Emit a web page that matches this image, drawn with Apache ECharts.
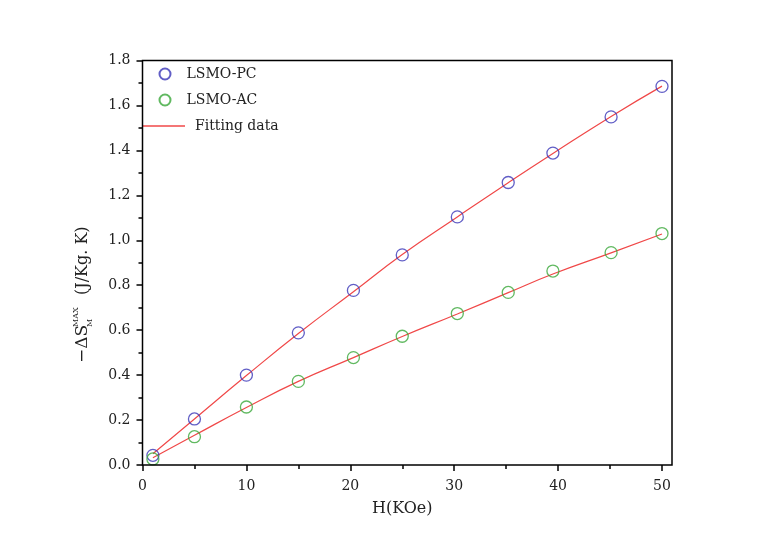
<!DOCTYPE html>
<html><head><meta charset="utf-8">
<script src="https://cdn.jsdelivr.net/npm/echarts@6/dist/echarts.min.js"></script>
<style>html,body{margin:0;padding:0;background:#fff}#c{width:768px;height:557px}</style>
</head><body><div id="c"></div>
<script>
const H = [1, 5, 10, 15, 20.3, 25, 30.3, 35.2, 39.5, 45.1, 50];
const pcData = [0.043, 0.205, 0.40, 0.588, 0.777, 0.935, 1.104, 1.257, 1.388, 1.549, 1.685];
const acData = [0.027, 0.126, 0.258, 0.372, 0.478, 0.573, 0.674, 0.768, 0.863, 0.945, 1.030];
const pcFit = [0.050, 0.205, 0.398, 0.585, 0.771, 0.937, 1.104, 1.256, 1.386, 1.551, 1.686];
const acFit = [0.032, 0.132, 0.256, 0.372, 0.478, 0.572, 0.672, 0.767, 0.850, 0.944, 1.028];
const xTicks = [0, 10, 20, 30, 40, 50];
const yTicks = ['0.0','0.2','0.4','0.6','0.8','1.0','1.2','1.4','1.6','1.8'];

const pair = (xs, ys) => xs.map((x, i) => [x, ys[i]]);
const FONT = 'DejaVu Serif';
const chart = echarts.init(document.getElementById('c'), null, {renderer: 'canvas'});
const L = 142.5, R = 662, T = 60.5, B = 465;
chart.setOption({
  backgroundColor: '#ffffff',
  animation: false,
  grid: {left: L, right: 768 - R, top: T, bottom: 557 - B, containLabel: false},
  legend: [{
    left: 158.5, top: 67, orient: 'vertical', padding: 0, itemGap: 12, itemWidth: 11, itemHeight: 11,
    textStyle: {fontFamily: FONT, fontSize: 14, color: '#222', padding: [0, 0, 0, 11]},
    data: [{name: 'LSMO-PC', icon: 'circle'}, {name: 'LSMO-AC', icon: 'circle'}]
  }, {
    left: 142, top: 119, padding: 0, itemWidth: 43, itemHeight: 1.3,
    textStyle: {fontFamily: FONT, fontSize: 14, color: '#222', padding: [0, 0, 0, 5]},
    data: [{name: 'Fitting data', icon: 'rect', itemStyle: {color: '#f04848'}}]
  }],
  xAxis: {
    type: 'value', min: 0, max: 50, interval: 10,
    name: 'H(KOe)', nameLocation: 'middle', nameGap: 36,
    nameTextStyle: {fontFamily: FONT, fontSize: 16, color: '#222'},
    axisLine: {show: false},
    axisTick: {show: true, inside: false, length: 6, lineStyle: {color: '#000', width: 1.5}},
    minorTick: {show: true, splitNumber: 2, length: 4, lineStyle: {color: '#000', width: 1.5}},
    splitLine: {show: false},
    axisLabel: {fontFamily: FONT, fontSize: 14, color: '#222', margin: 14,
      formatter: v => xTicks.includes(v) ? String(v) : ''}
  },
  yAxis: {
    type: 'value', min: 0, max: 1.8, interval: 0.2,
    axisLine: {show: false},
    axisTick: {show: true, inside: false, length: 6, lineStyle: {color: '#000', width: 1.5}},
    minorTick: {show: true, splitNumber: 2, length: 4, lineStyle: {color: '#000', width: 1.5}},
    splitLine: {show: false},
    axisLabel: {fontFamily: FONT, fontSize: 14, color: '#222', margin: 12,
      formatter: v => yTicks[Math.round(v / 0.2)] || ''}
  },
  series: [
    {name: 'Fitting data', type: 'line', data: pair(H, pcFit), smooth: true, symbol: 'none',
     lineStyle: {color: '#f04848', width: 1.2}, itemStyle: {color: '#f04848'}, z: 2},
    {name: 'Fitting data', type: 'line', data: pair(H, acFit), smooth: true, symbol: 'none',
     lineStyle: {color: '#f04848', width: 1.2}, itemStyle: {color: '#f04848'}, z: 2},
    {name: 'LSMO-PC', type: 'scatter', data: pair(H, pcData), symbol: 'circle', symbolSize: 12,
     itemStyle: {color: 'rgba(0,0,0,0)', borderColor: '#3a36b8', borderWidth: 1.3}, z: 3},
    {name: 'LSMO-AC', type: 'scatter', data: pair(H, acData), symbol: 'circle', symbolSize: 12,
     itemStyle: {color: 'rgba(0,0,0,0)', borderColor: '#3aa83a', borderWidth: 1.3}, z: 3}
  ],
  graphic: [
    {type: 'rect', shape: {x: L, y: T, width: 672 - L, height: B - T}, silent: true, z: 10,
     style: {fill: 'none', stroke: '#000', lineWidth: 1.5}},
    {type: 'group', x: 83, y: 291, rotation: Math.PI / 2, children: [
      {type: 'text', x: -72, y: 0, style: {text: '\u2212\u0394S', fontFamily: FONT, fontSize: 17, fill: '#222', verticalAlign: 'middle', align: 'left'}},
      {type: 'text', x: -36, y: -7, style: {text: 'MAX', fontFamily: FONT, fontSize: 8, fill: '#222', verticalAlign: 'middle', align: 'left'}},
      {type: 'text', x: -36, y: 7, style: {text: 'M', fontFamily: FONT, fontSize: 8, fill: '#222', verticalAlign: 'middle', align: 'left'}},
      {type: 'text', x: -4, y: 0, style: {text: '(J/Kg. K)', fontFamily: FONT, fontSize: 16, fill: '#222', verticalAlign: 'middle', align: 'left'}}
    ]}
  ]
});
</script></body></html>
